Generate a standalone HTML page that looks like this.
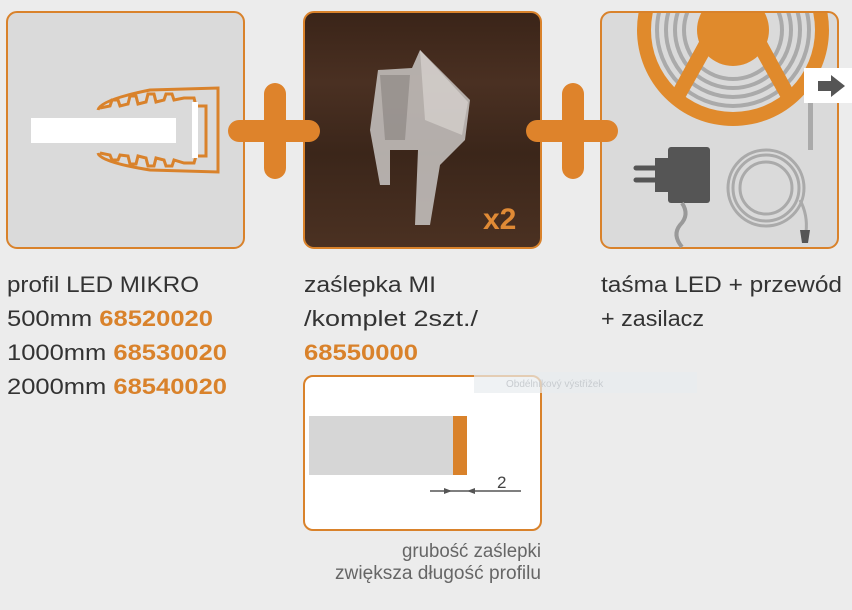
<!DOCTYPE html>
<html><head><meta charset="utf-8"><style>
html,body{margin:0;padding:0;background:#ececec;}
svg{display:block;}
text{font-family:"Liberation Sans",sans-serif;}
</style></head><body>
<svg width="852" height="610" viewBox="0 0 852 610" xmlns="http://www.w3.org/2000/svg">
<defs>
<linearGradient id="wood" x1="0" y1="0" x2="0" y2="1">
<stop offset="0" stop-color="#3a2418"/><stop offset="0.3" stop-color="#4a3022"/><stop offset="0.6" stop-color="#3b261a"/><stop offset="1" stop-color="#4b3122"/>
</linearGradient>
<clipPath id="c3"><rect x="601" y="13" width="236" height="234" rx="10"/></clipPath>
</defs>
<rect width="852" height="610" fill="#ececec"/>
<!-- box1 -->
<rect x="7" y="12" width="237" height="236" rx="10" fill="#dadada" stroke="#d9822b" stroke-width="2"/>
<rect x="31" y="118" width="145" height="25" fill="#fff"/>
<g fill="none" stroke="#d9822b" stroke-width="3">
<path d="M98 110 Q100 100 150 90 L218 88 L218 172 L150 170 Q100 162 98 153"/>
<path d="M100 108 L110 106 L112 100 L118 100 L120 106 L128 104 L130 96 L136 96 L138 104 L146 102 L148 94 L154 94 L156 102 L164 100 L166 94 L172 94 L174 100 L184 98 L194 98 L196 106 L206 106 L206 156 L196 156 L194 163 L184 163 L174 160 L172 166 L166 166 L164 160 L156 158 L154 166 L148 166 L146 158 L138 156 L136 164 L130 164 L128 156 L120 155 L118 160 L112 160 L110 155 L100 153"/>
</g>
<rect x="192" y="102" width="6" height="56" fill="#fff"/>
<!-- box2 -->
<rect x="304" y="12" width="237" height="236" rx="10" fill="url(#wood)" stroke="#d9822b" stroke-width="2"/>
<g opacity="0.85">
<path d="M420 50 L470 100 L465 140 L440 165 L430 225 L415 225 L418 150 L390 150 L390 185 L380 185 L370 130 L378 70 L412 68 Z" fill="#c9c6c4"/>
<path d="M420 50 L468 102 L462 135 L425 120 Z" fill="#e6e4e2"/>
<path d="M380 75 L410 75 L405 140 L385 140 Z" fill="#a9a6a4"/>
</g>
<text x="483" y="229" font-size="30" font-weight="bold" fill="#e08a35">x2</text>
<!-- box3 -->
<rect x="601" y="12" width="237" height="236" rx="10" fill="#dadada" stroke="#d9822b" stroke-width="2"/>
<g clip-path="url(#c3)">
<circle cx="733" cy="30" r="96" fill="#e08a2c"/>
<circle cx="733" cy="30" r="82" fill="#dadada"/>
<g fill="none" stroke="#aaa" stroke-width="4">
<circle cx="733" cy="30" r="76"/><circle cx="733" cy="30" r="67"/><circle cx="733" cy="30" r="58"/><circle cx="733" cy="30" r="49"/>
</g>
<circle cx="733" cy="30" r="36" fill="#e08a2c"/>
<path d="M700 40 L670 95 L684 100 L712 50 Z M766 40 L796 95 L782 100 L754 50 Z" fill="#e08a2c"/>
</g>
<rect x="808" y="100" width="5" height="50" fill="#aaa"/>
<path d="M636 168 H660 M636 180 H660" stroke="#555" stroke-width="5" stroke-linecap="round"/>
<rect x="668" y="147" width="42" height="56" rx="3" fill="#555"/>
<rect x="655" y="158" width="20" height="34" fill="#555"/>
<path d="M682 203 Q690 215 680 225 Q672 235 682 247" stroke="#999" stroke-width="4" fill="none"/>
<g fill="none" stroke="#aaa" stroke-width="3">
<circle cx="766" cy="188" r="38"/><circle cx="766" cy="188" r="33"/><circle cx="766" cy="188" r="26"/>
<path d="M800 200 Q808 215 806 232"/>
</g>
<path d="M800 230 L810 230 L808 243 L802 243 Z" fill="#555"/>
<!-- pluses -->
<g fill="#de832b">
<rect x="264" y="83" width="22" height="96" rx="11"/>
<rect x="228" y="120" width="92" height="22" rx="11"/>
<rect x="562" y="83" width="22" height="96" rx="11"/>
<rect x="526" y="120" width="92" height="22" rx="11"/>
</g>
<!-- arrow box -->
<rect x="804" y="68" width="48" height="35" fill="#fff"/>
<path d="M818 81 H831 V75 L845 86 L831 97 V91 H818 Z" fill="#555"/>
<!-- texts -->
<g font-size="22" fill="#333">
<text x="7" y="292" textLength="192" lengthAdjust="spacingAndGlyphs">profil LED MIKRO</text>
<text x="7" y="326" textLength="206" lengthAdjust="spacingAndGlyphs">500mm <tspan fill="#d9822b" font-weight="bold">68520020</tspan></text>
<text x="7" y="360" textLength="220" lengthAdjust="spacingAndGlyphs">1000mm <tspan fill="#d9822b" font-weight="bold">68530020</tspan></text>
<text x="7" y="394" textLength="220" lengthAdjust="spacingAndGlyphs">2000mm <tspan fill="#d9822b" font-weight="bold">68540020</tspan></text>
<text x="304" y="292" textLength="132" lengthAdjust="spacingAndGlyphs">zaślepka MI</text>
<text x="304" y="326" textLength="174" lengthAdjust="spacingAndGlyphs">/komplet 2szt./</text>
<text x="304" y="360" fill="#d9822b" font-weight="bold" textLength="114" lengthAdjust="spacingAndGlyphs">68550000</text>
<text x="601" y="292" textLength="241" lengthAdjust="spacingAndGlyphs">taśma LED + przewód</text>
<text x="601" y="326" textLength="103" lengthAdjust="spacingAndGlyphs">+ zasilacz</text>
</g>
<!-- small box -->
<rect x="304" y="376" width="237" height="154" rx="9" fill="#fff" stroke="#d9822b" stroke-width="2"/>
<rect x="309" y="416" width="144" height="59" fill="#d6d6d6"/>
<rect x="453" y="416" width="14" height="59" fill="#d9822b"/>
<path d="M430 491 H521" stroke="#555" stroke-width="1.5"/>
<path d="M452 491 L444 488 L444 494 Z M467 491 L475 488 L475 494 Z" fill="#555"/>
<text x="497" y="488" font-size="17" fill="#444">2</text>
<rect x="474" y="372" width="223" height="21" fill="#e8ecef" opacity="0.7"/>
<text x="506" y="387" font-size="10" fill="#c8ccd0">Obdélníkový výstřižek</text>
<g font-size="19" fill="#666">
<text x="402" y="557" textLength="139" lengthAdjust="spacingAndGlyphs">grubość zaślepki</text>
<text x="335" y="579" textLength="206" lengthAdjust="spacingAndGlyphs">zwiększa długość profilu</text>
</g>
</svg>
</body></html>
